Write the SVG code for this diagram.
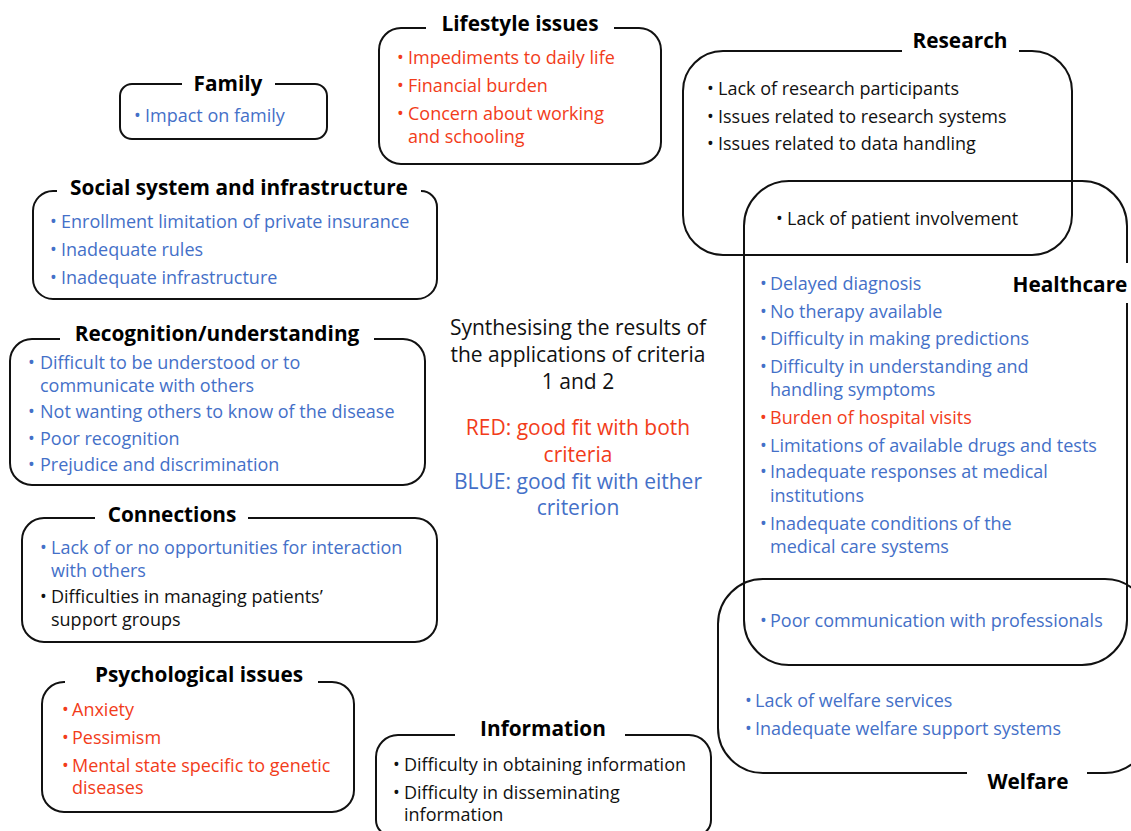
<svg xmlns="http://www.w3.org/2000/svg" width="1131" height="831" viewBox="0 0 1131 831">
<style>
  .box { fill: none; stroke: #111; stroke-width: 2; }
  .t { font-family: "Open Sans", "Noto Sans", sans-serif; font-size: 20.8px; font-weight: bold; fill: #000; text-anchor: middle; }
  text { font-family: "Open Sans", "Noto Sans", sans-serif; font-size: 18px; }
  .k { fill: #111; }
  .r { fill: #F23C1A; }
  .bl { fill: #4470C8; }
  .c { font-size: 21px; text-anchor: middle; }
</style>
<rect width="1131" height="831" fill="#fff"/>
<g id="connectors"></g>

<g id="family">
  <path class="box" d="M275,84 H315 A12,12 0 0 1 327,96 V127 A12,12 0 0 1 315,139 H132 A12,12 0 0 1 120,127 V96 A12,12 0 0 1 132,84 H182"/>
  <text class="t" x="228" y="91">Family</text>
  <text class="bl" x="134" y="122">•</text><text class="bl" x="145" y="122">Impact on family</text>
</g>

<g id="lifestyle">
  <path class="box" d="M614,28 H639 A22,22 0 0 1 661,50 V142 A22,22 0 0 1 639,164 H401 A22,22 0 0 1 379,142 V50 A22,22 0 0 1 401,28 H426"/>
  <text class="t" x="520" y="31">Lifestyle issues</text>
  <text class="r" x="397" y="64">•</text><text class="r" x="408" y="64">Impediments to daily life</text>
  <text class="r" x="397" y="92">•</text><text class="r" x="408" y="92">Financial burden</text>
  <text class="r" x="397" y="120">•</text><text class="r" x="408" y="120">Concern about working</text>
  <text class="r" x="408" y="143">and schooling</text>
</g>

<g id="social">
  <path class="box" d="M421,191 A16,16 0 0 1 437,207 V279 A20,20 0 0 1 417,299 H53 A20,20 0 0 1 33,279 V211 A20,20 0 0 1 53,191 H57"/>
  <text class="t" x="239" y="195">Social system and infrastructure</text>
  <text class="bl" x="50" y="228">•</text><text class="bl" x="61" y="228">Enrollment limitation of private insurance</text>
  <text class="bl" x="50" y="256">•</text><text class="bl" x="61" y="256">Inadequate rules</text>
  <text class="bl" x="50" y="284">•</text><text class="bl" x="61" y="284">Inadequate infrastructure</text>
</g>

<g id="recognition">
  <path class="box" d="M374,339 H403 A22,22 0 0 1 425,361 V463 A22,22 0 0 1 403,485 H32 A22,22 0 0 1 10,463 V361 A22,22 0 0 1 32,339 H60"/>
  <text class="t" x="217" y="341">Recognition/understanding</text>
  <text class="bl" x="28" y="369">•</text><text class="bl" x="40" y="369">Difficult to be understood or to</text>
  <text class="bl" x="40" y="392">communicate with others</text>
  <text class="bl" x="28" y="418">•</text><text class="bl" x="40" y="418">Not wanting others to know of the disease</text>
  <text class="bl" x="28" y="445">•</text><text class="bl" x="40" y="445">Poor recognition</text>
  <text class="bl" x="28" y="471">•</text><text class="bl" x="40" y="471">Prejudice and discrimination</text>
</g>

<g id="connections">
  <path class="box" d="M248,518 H415 A22,22 0 0 1 437,540 V620 A22,22 0 0 1 415,642 H44 A22,22 0 0 1 22,620 V540 A22,22 0 0 1 44,518 H95"/>
  <text class="t" x="172" y="522">Connections</text>
  <text class="bl" x="40" y="554">•</text><text class="bl" x="51" y="554">Lack of or no opportunities for interaction</text>
  <text class="bl" x="51" y="577">with others</text>
  <text class="k" x="40" y="603">•</text><text class="k" x="51" y="603">Difficulties in managing patients’</text>
  <text class="k" x="51" y="626">support groups</text>
</g>

<g id="psychological">
  <path class="box" d="M318,682 H332 A22,22 0 0 1 354,704 V790 A22,22 0 0 1 332,812 H64 A22,22 0 0 1 42,790 V704 A22,22 0 0 1 64,682 H65"/>
  <text class="t" x="199" y="682">Psychological issues</text>
  <text class="r" x="62" y="716">•</text><text class="r" x="72" y="716">Anxiety</text>
  <text class="r" x="62" y="744">•</text><text class="r" x="72" y="744">Pessimism</text>
  <text class="r" x="62" y="772">•</text><text class="r" x="72" y="772">Mental state specific to genetic</text>
  <text class="r" x="72" y="794">diseases</text>
</g>

<g id="information">
  <path class="box" d="M625,735 H689 A22,22 0 0 1 711,757 V820 A16,16 0 0 1 695,836 H392 A16,16 0 0 1 376,820 V757 A22,22 0 0 1 398,735 H455"/>
  <text class="t" x="543" y="736">Information</text>
  <text class="k" x="393" y="771">•</text><text class="k" x="404" y="771">Difficulty in obtaining information</text>
  <text class="k" x="393" y="799">•</text><text class="k" x="404" y="799">Difficulty in disseminating</text>
  <text class="k" x="404" y="821">information</text>
</g>

<g id="legend">
  <text class="k c" x="578" y="335">Synthesising the results of</text>
  <text class="k c" x="578" y="362">the applications of criteria</text>
  <text class="k c" x="578" y="389">1 and 2</text>
  <text class="r c" x="578" y="435">RED: good fit with both</text>
  <text class="r c" x="578" y="462">criteria</text>
  <text class="bl c" x="578" y="489">BLUE: good fit with either</text>
  <text class="bl c" x="578" y="515">criterion</text>
</g>

<g id="research">
  <path class="box" d="M1019,51 H1032 A40,40 0 0 1 1072,91 V215 A40,40 0 0 1 1032,255 H723 A40,40 0 0 1 683,215 V91 A40,40 0 0 1 723,51 H902"/>
  <text class="t" x="960" y="48">Research</text>
  <text class="k" x="707" y="95">•</text><text class="k" x="718" y="95">Lack of research participants</text>
  <text class="k" x="707" y="123">•</text><text class="k" x="718" y="123">Issues related to research systems</text>
  <text class="k" x="707" y="150">•</text><text class="k" x="718" y="150">Issues related to data handling</text>
  <text class="k" x="776" y="225">•</text><text class="k" x="787" y="225">Lack of patient involvement</text>
</g>

<g id="healthcare">
  <path class="box" d="M1127,303 V620 A45,45 0 0 1 1082,665 H789 A45,45 0 0 1 744,620 V226 A45,45 0 0 1 789,181 H1082 A45,45 0 0 1 1127,226 V263"/>
  <text class="t" x="1070" y="292">Healthcare</text>
  <text class="bl" x="760" y="290">•</text><text class="bl" x="770" y="290">Delayed diagnosis</text>
  <text class="bl" x="760" y="318">•</text><text class="bl" x="770" y="318">No therapy available</text>
  <text class="bl" x="760" y="345">•</text><text class="bl" x="770" y="345">Difficulty in making predictions</text>
  <text class="bl" x="760" y="373">•</text><text class="bl" x="770" y="373">Difficulty in understanding and</text>
  <text class="bl" x="770" y="396">handling symptoms</text>
  <text class="r" x="760" y="424">•</text><text class="r" x="770" y="424">Burden of hospital visits</text>
  <text class="bl" x="760" y="452">•</text><text class="bl" x="770" y="452">Limitations of available drugs and tests</text>
  <text class="bl" x="760" y="478">•</text><text class="bl" x="770" y="478">Inadequate responses at medical</text>
  <text class="bl" x="770" y="502">institutions</text>
  <text class="bl" x="760" y="530">•</text><text class="bl" x="770" y="530">Inadequate conditions of the</text>
  <text class="bl" x="770" y="553">medical care systems</text>
  <text class="bl" x="760" y="627">•</text><text class="bl" x="770" y="627">Poor communication with professionals</text>
</g>

<g id="welfare">
  <path class="box" d="M967,773 H763 A45,45 0 0 1 718,728 V624 A45,45 0 0 1 763,579 H1105 A45,45 0 0 1 1150,624 V728 A45,45 0 0 1 1105,773 H1087"/>
  <text class="t" x="1028" y="789">Welfare</text>
  <text class="bl" x="745" y="707">•</text><text class="bl" x="755" y="707">Lack of welfare services</text>
  <text class="bl" x="745" y="735">•</text><text class="bl" x="755" y="735">Inadequate welfare support systems</text>
</g>
</svg>
